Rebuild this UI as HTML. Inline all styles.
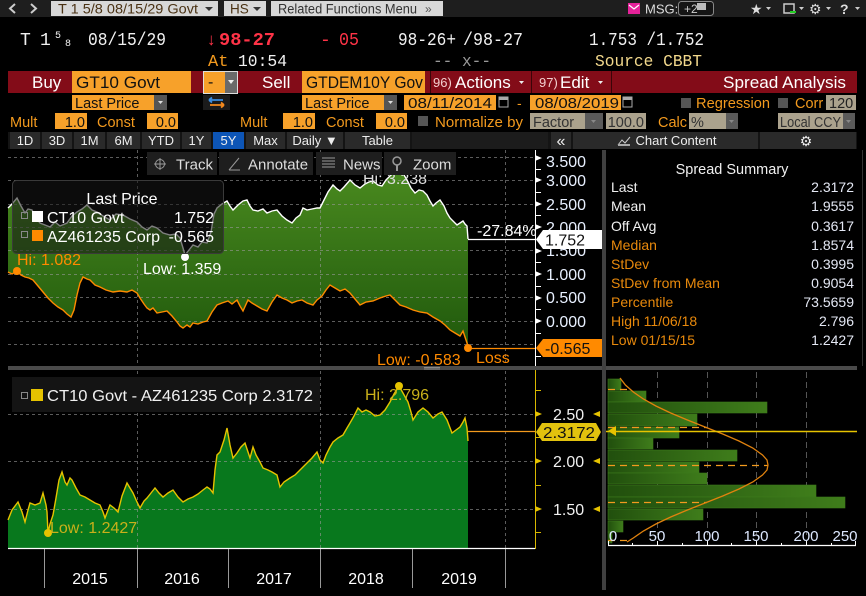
<!DOCTYPE html>
<html><head><meta charset="utf-8"><style>
html,body{margin:0;padding:0;background:#000;width:866px;height:596px;overflow:hidden}
svg{display:block}
text{font-family:"Liberation Sans",sans-serif}
.m{font-family:"Liberation Mono",monospace}
</style></head><body>
<svg width="866" height="596" viewBox="0 0 866 596" xmlns="http://www.w3.org/2000/svg">
<defs>
<linearGradient id="gu" x1="0" y1="170" x2="0" y2="350" gradientUnits="userSpaceOnUse">
<stop offset="0" stop-color="#4a8a1f"/><stop offset="1" stop-color="#1f580c"/></linearGradient>
<linearGradient id="gb" x1="0" y1="0" x2="1" y2="0">
<stop offset="0" stop-color="#214f0d"/><stop offset="1" stop-color="#3f7d1b"/></linearGradient>
</defs>
<rect width="866" height="596" fill="#000"/>

<!-- top bar -->
<rect x="0" y="0" width="866" height="17" fill="#1e1e1e"/>
<path d="M15,4 L10,8.5 L15,13" stroke="#ccc" stroke-width="2" fill="none"/>
<path d="M31,4 L36,8.5 L31,13" stroke="#ccc" stroke-width="2" fill="none"/>
<rect x="51" y="1" width="167" height="15" fill="#d8d8d8"/>
<text x="58" y="13.5" font-size="13.5" fill="#4a3214" textLength="140" lengthAdjust="spacingAndGlyphs">T 1 5/8 08/15/29 Govt</text>
<path d="M205,7 L213,7 L209,11 Z" fill="#333"/>
<rect x="224" y="1" width="42" height="15" fill="#d8d8d8"/>
<text x="230" y="13.5" font-size="13.5" fill="#4a3214">HS</text>
<path d="M253,7 L261,7 L257,11 Z" fill="#333"/>
<rect x="271" y="1" width="172" height="15" fill="#d8d8d8"/>
<text x="278" y="13.5" font-size="13.5" fill="#333" textLength="139" lengthAdjust="spacingAndGlyphs">Related Functions Menu</text>
<text x="425" y="13" font-size="12" fill="#555">»</text>
<rect x="628" y="3" width="12" height="11" fill="#e5229a"/>
<path d="M629,5 L634,9 L639,5" stroke="#fff" stroke-width="1.2" fill="none"/>
<text x="645" y="13.5" font-size="13" fill="#ddd">MSG:</text>
<rect x="678.5" y="1.5" width="35" height="14" rx="3" fill="#151515" stroke="#888"/>
<text x="684" y="13" font-size="12" fill="#ccc">+2</text>
<rect x="697" y="3" width="9" height="7" fill="#bbb"/>
<text x="750" y="14" font-size="14" fill="#ddd">★</text>
<path d="M766,7 L771,7 L768.5,10 Z" fill="#ccc"/>
<rect x="784" y="4" width="10" height="9" fill="none" stroke="#ccc" stroke-width="1.5"/>
<path d="M790,12 L796,12" stroke="#2c2" stroke-width="2"/>
<path d="M799,7 L804,7 L801.5,10 Z" fill="#ccc"/>
<text x="809" y="14" font-size="14" fill="#ddd">⚙</text>
<path d="M826,7 L831,7 L828.5,10 Z" fill="#ccc"/>
<text x="840" y="14" font-size="14" font-weight="bold" fill="#ddd">?</text>
<path d="M855,7 L860,7 L857.5,10 Z" fill="#ccc"/>

<!-- quote line -->
<text class="m" x="20" y="45" font-size="18" fill="#f0f0f0">T</text>
<text class="m" x="40" y="45" font-size="18" fill="#f0f0f0">1</text>
<text class="m" x="55" y="38" font-size="10" fill="#f0f0f0">5</text>
<text class="m" x="65" y="46" font-size="10" fill="#f0f0f0">8</text>
<text class="m" x="88" y="45" font-size="18" fill="#f0f0f0" textLength="78" lengthAdjust="spacingAndGlyphs">08/15/29</text>
<text x="207" y="45" font-size="17" fill="#ff3347">↓</text>
<text class="m" x="219" y="45" font-size="18" font-weight="bold" fill="#ff3347" textLength="56" lengthAdjust="spacingAndGlyphs">98-27</text>
<text class="m" x="320" y="45" font-size="18" fill="#ff3347">-</text>
<text class="m" x="339" y="45" font-size="18" fill="#ff3347" textLength="20" lengthAdjust="spacingAndGlyphs">05</text>
<text class="m" x="398" y="45" font-size="18" fill="#f0f0f0" textLength="58" lengthAdjust="spacingAndGlyphs">98-26+</text>
<text class="m" x="463" y="45" font-size="18" fill="#f0f0f0" textLength="60" lengthAdjust="spacingAndGlyphs">/98-27</text>
<text class="m" x="589" y="45" font-size="18" fill="#f0f0f0" textLength="115" lengthAdjust="spacingAndGlyphs">1.753 /1.752</text>
<text class="m" x="208" y="66" font-size="17" fill="#f39a1e">At</text>
<text class="m" x="238" y="66" font-size="17" fill="#f0f0f0" textLength="49" lengthAdjust="spacingAndGlyphs">10:54</text>
<text class="m" x="433" y="66" font-size="17" fill="#9a9a9a" textLength="58" lengthAdjust="spacingAndGlyphs">-- x--</text>
<text class="m" x="595" y="66" font-size="17" fill="#f2d88c" textLength="107" lengthAdjust="spacingAndGlyphs">Source CBBT</text>

<!-- red bar -->
<rect x="8" y="71" width="849" height="22" fill="#830c18"/>
<text x="32" y="88" font-size="17" fill="#fff">Buy</text>
<rect x="72" y="71" width="119" height="22" fill="#f7a12a"/>
<text x="76" y="88" font-size="17" fill="#111" textLength="84" lengthAdjust="spacingAndGlyphs">GT10 Govt</text>
<rect x="203.5" y="71.5" width="34" height="22" fill="#f7a12a" stroke="#ddd"/>
<rect x="225" y="72" width="12" height="21" fill="#6a6a6a"/>
<path d="M228,80 L234,80 L231,84 Z" fill="#eee"/>
<text x="208" y="87" font-size="16" fill="#111">-</text>
<text x="262" y="88" font-size="17" fill="#fff">Sell</text>
<rect x="302" y="71" width="123" height="22" fill="#f7a12a"/>
<text x="306" y="88" font-size="17" fill="#111" textLength="117" lengthAdjust="spacingAndGlyphs">GTDEM10Y Gov</text>
<rect x="430" y="71" width="1" height="22" fill="#3a0508"/>
<rect x="531" y="71" width="1" height="22" fill="#3a0508"/>
<rect x="611" y="71" width="1" height="22" fill="#3a0508"/>
<text x="433" y="87" font-size="13" fill="#f3cfcf">96)</text>
<text x="455" y="88" font-size="17" fill="#fff">Actions</text>
<path d="M519,81 L524,81 L521.5,84 Z" fill="#eee"/>
<text x="539" y="87" font-size="13" fill="#f3cfcf">97)</text>
<text x="560" y="88" font-size="17" fill="#fff">Edit</text>
<path d="M598,81 L603,81 L600.5,84 Z" fill="#eee"/>
<text x="723" y="88" font-size="17" fill="#fff" textLength="123" lengthAdjust="spacingAndGlyphs">Spread Analysis</text>

<!-- row 5 -->
<rect x="72" y="95" width="82" height="15" fill="#f7a12a"/>
<text x="75" y="108" font-size="14.5" fill="#111">Last Price</text>
<rect x="154" y="95" width="13" height="15" fill="#555"/>
<path d="M158,101 L163,101 L160.5,104 Z" fill="#ddd"/>
<rect x="203" y="95" width="27" height="15" fill="#1b1b1b"/>
<path d="M209,100 L223,100 M209,100 L212,97.5 M209,100 L212,102.5" stroke="#3b8de0" stroke-width="1.8" fill="none"/>
<path d="M210,105 L224,105 M224,105 L221,102.5 M224,105 L221,107.5" stroke="#f58a1e" stroke-width="1.8" fill="none"/>
<rect x="302" y="95" width="82" height="15" fill="#f7a12a"/>
<text x="305" y="108" font-size="14.5" fill="#111">Last Price</text>
<rect x="384" y="95" width="13" height="15" fill="#555"/>
<path d="M388,101 L393,101 L390.5,104 Z" fill="#ddd"/>
<rect x="404" y="95" width="92" height="15" fill="#f7a12a"/>
<text x="408" y="108" font-size="14.5" fill="#111" textLength="84" lengthAdjust="spacingAndGlyphs">08/11/2014</text>
<rect x="499" y="97" width="9" height="10" fill="none" stroke="#aaa"/>
<rect x="499" y="97" width="9" height="3" fill="#aaa"/>
<text x="517" y="108" font-size="14" fill="#f39a1e">-</text>
<rect x="530" y="95" width="91" height="15" fill="#f7a12a"/>
<text x="535" y="108" font-size="14.5" fill="#111" textLength="84" lengthAdjust="spacingAndGlyphs">08/08/2019</text>
<rect x="623" y="97" width="9" height="10" fill="none" stroke="#aaa"/>
<rect x="623" y="97" width="9" height="3" fill="#aaa"/>
<rect x="681" y="98" width="10" height="10" fill="#555"/>
<text x="696" y="108" font-size="14.5" fill="#f39a1e" textLength="74" lengthAdjust="spacingAndGlyphs">Regression</text>
<rect x="778" y="98" width="10" height="10" fill="#555"/>
<text x="795" y="108" font-size="14.5" fill="#f39a1e">Corr</text>
<rect x="826" y="95" width="30" height="15" fill="#aba28d"/>
<text x="829" y="108" font-size="14.5" fill="#222">120</text>

<!-- row 6 -->
<text x="10" y="127" font-size="14.5" fill="#f39a1e">Mult</text>
<rect x="55" y="113" width="32" height="16" fill="#f7a12a"/>
<text x="85" y="127" font-size="14.5" fill="#111" text-anchor="end">1.0</text>
<text x="97" y="127" font-size="14.5" fill="#f39a1e">Const</text>
<rect x="147" y="113" width="31" height="16" fill="#f7a12a"/>
<text x="176" y="127" font-size="14.5" fill="#111" text-anchor="end">0.0</text>
<text x="240" y="127" font-size="14.5" fill="#f39a1e">Mult</text>
<rect x="283" y="113" width="32" height="16" fill="#f7a12a"/>
<text x="313" y="127" font-size="14.5" fill="#111" text-anchor="end">1.0</text>
<text x="326" y="127" font-size="14.5" fill="#f39a1e">Const</text>
<rect x="376" y="113" width="31" height="16" fill="#f7a12a"/>
<text x="405" y="127" font-size="14.5" fill="#111" text-anchor="end">0.0</text>
<rect x="418" y="116" width="10" height="10" fill="#555"/>
<text x="435" y="127" font-size="14.5" fill="#f39a1e" textLength="88" lengthAdjust="spacingAndGlyphs">Normalize by</text>
<rect x="530" y="113" width="55" height="16" fill="#aba28d"/>
<text x="533" y="127" font-size="14.5" fill="#333">Factor</text>
<rect x="585" y="113" width="18" height="16" fill="#5a5a5a"/>
<path d="M591,120 L596,120 L593.5,123 Z" fill="#888"/>
<rect x="606" y="113" width="40" height="16" fill="#aba28d"/>
<text x="644" y="127" font-size="14.5" fill="#333" text-anchor="end">100.0</text>
<text x="658" y="127" font-size="14.5" fill="#f39a1e">Calc</text>
<rect x="689" y="113" width="37" height="16" fill="#aba28d"/>
<text x="691" y="127" font-size="14.5" fill="#333">%</text>
<rect x="726" y="113" width="12" height="16" fill="#5a5a5a"/>
<path d="M729,120 L734,120 L731.5,123 Z" fill="#888"/>
<rect x="778" y="113" width="65" height="16" fill="#aba28d"/>
<text x="780" y="127" font-size="14.5" fill="#333" textLength="61" lengthAdjust="spacingAndGlyphs">Local CCY</text>
<rect x="843" y="113" width="12" height="16" fill="#5a5a5a"/>
<path d="M846,120 L851,120 L848.5,123 Z" fill="#888"/>

<!-- row 7 tabs -->
<rect x="8" y="132" width="849" height="17" fill="#141414"/>
<g fill="#2a2a2a">
<rect x="10" y="132" width="30" height="17"/><rect x="42" y="132" width="30" height="17"/>
<rect x="74" y="132" width="31" height="17"/><rect x="107" y="132" width="33" height="17"/>
<rect x="142" y="132" width="38" height="17"/><rect x="182" y="132" width="29" height="17"/>
<rect x="246" y="132" width="39" height="17"/><rect x="287" y="132" width="56" height="17"/>
<rect x="345" y="132" width="65" height="17"/><rect x="412" y="132" width="136" height="17" fill="#1c1c1c"/>
<rect x="551" y="132" width="20" height="17"/><rect x="573" y="132" width="185" height="17"/>
<rect x="760" y="132" width="96" height="17"/>
</g>
<rect x="213" y="132" width="31" height="17" fill="#0d55b6"/>
<g font-size="13" fill="#eee" text-anchor="middle">
<text x="25" y="145">1D</text><text x="57" y="145">3D</text><text x="89.5" y="145">1M</text>
<text x="123.5" y="145">6M</text><text x="161" y="145">YTD</text><text x="196.5" y="145">1Y</text>
<text x="228.5" y="145">5Y</text><text x="265.5" y="145">Max</text><text x="315" y="145">Daily ▼</text>
<text x="377.5" y="145">Table</text><text x="561" y="146" font-size="16">«</text>
<text x="676" y="145">Chart Content</text><text x="806" y="146" font-size="14">⚙</text>
</g>
<path d="M618,145 L622,140 L625,143 L630,137" stroke="#ccc" fill="none"/>
<rect x="618" y="144" width="12" height="2" fill="#aaa"/>

<!-- ============ upper chart ============ -->
<path fill="url(#gu)" d="M8,208 L12,204 L17,198 L21,206 L25,213 L28,209 L32,210 L36,218 L40,223 L45,225 L50,227 L55,222 L60,226 L67,223 L72,216 L77,212 L82,209 L87,205 L92,210 L97,212 L103,216 L110,220 L116,214 L123,215 L130,219 L137,222 L142,227 L147,230 L152,226 L157,228 L163,233 L170,235 L176,234 L180,238 L183,248 L185,255 L189,250 L193,245 L198,247 L202,242 L207,243 L211,232 L214,214 L217,208 L222,204 L227,201 L230,206 L233,210 L238,205 L243,201 L247,200 L250,206 L253,210 L258,211 L263,209 L267,213 L272,211 L277,210 L282,216 L287,220 L292,223 L296,218 L300,215 L303,208 L307,210 L312,209 L317,208 L320,208 L324,200 L328,192 L333,185 L337,189 L340,191 L344,187 L350,180 L355,185 L360,188 L365,184 L369,182 L373,181 L378,185 L382,186 L386,180 L390,176 L395,172 L400,170 L404,175 L407,180 L411,188 L415,193 L419,190 L423,191 L427,195 L430,201 L433,206 L436,203 L440,200 L444,206 L447,213 L450,218 L454,222 L457,225 L460,223 L463,221 L465,224 L467,226 L468,239 L468,365 L8,365 Z"/>
<path fill="#000" d="M8,272 L12,274 L17,271 L21,275 L25,277 L29,278 L33,280 L38,286 L43,292 L48,298 L53,303 L58,307 L63,310 L67,314 L71,317 L74,310 L77,295 L80,283 L83,277 L87,279 L90,280 L95,285 L100,287 L106,290 L113,292 L120,291 L127,292 L132,290 L137,293 L140,298 L144,304 L147,308 L150,310 L153,308 L157,313 L162,312 L167,311 L172,316 L177,322 L180,326 L183,328 L187,325 L190,327 L193,323 L198,324 L203,322 L207,321 L212,312 L217,305 L222,303 L228,301 L232,304 L237,300 L240,306 L243,311 L248,300 L252,303 L257,306 L262,309 L267,311 L272,302 L277,295 L282,298 L287,300 L292,303 L297,301 L302,300 L307,303 L313,305 L317,300 L322,296 L326,290 L330,285 L335,288 L340,291 L345,289 L350,293 L355,299 L360,305 L366,302 L373,301 L380,298 L386,296 L390,295 L395,300 L400,305 L406,307 L413,310 L420,312 L427,313 L433,317 L440,321 L445,325 L450,330 L455,333 L460,336 L463,331 L466,340 L468,346 L468,366 L8,366 Z"/>
<!-- grid upper -->
<g stroke="#9a9a9a" stroke-opacity="0.6" stroke-dasharray="3,3" stroke-width="1">
<path d="M8,157.5 H535 M8,180.5 H535 M8,204.5 H535 M8,227.5 H535 M8,250.5 H535 M8,274.5 H535 M8,297.5 H535 M8,321.5 H535 M8,344.5 H535"/>
<path d="M137.5,150 V366 M320.5,150 V366 M505.5,150 V366"/>
</g>
<!-- lines -->
<polyline fill="none" stroke="#ff8a00" stroke-width="1.4" points="8,272 12,274 17,271 21,275 25,277 29,278 33,280 38,286 43,292 48,298 53,303 58,307 63,310 67,314 71,317 74,310 77,295 80,283 83,277 87,279 90,280 95,285 100,287 106,290 113,292 120,291 127,292 132,290 137,293 140,298 144,304 147,308 150,310 153,308 157,313 162,312 167,311 172,316 177,322 180,326 183,328 187,325 190,327 193,323 198,324 203,322 207,321 212,312 217,305 222,303 228,301 232,304 237,300 240,306 243,311 248,300 252,303 257,306 262,309 267,311 272,302 277,295 282,298 287,300 292,303 297,301 302,300 307,303 313,305 317,300 322,296 326,290 330,285 335,288 340,291 345,289 350,293 355,299 360,305 366,302 373,301 380,298 386,296 390,295 395,300 400,305 406,307 413,310 420,312 427,313 433,317 440,321 445,325 450,330 455,333 460,336 463,331 466,340 468,346"/>
<polyline fill="none" stroke="#fff" stroke-width="1.4" points="8,208 12,204 17,198 21,206 25,213 28,209 32,210 36,218 40,223 45,225 50,227 55,222 60,226 67,223 72,216 77,212 82,209 87,205 92,210 97,212 103,216 110,220 116,214 123,215 130,219 137,222 142,227 147,230 152,226 157,228 163,233 170,235 176,234 180,238 183,248 185,255 189,250 193,245 198,247 202,242 207,243 211,232 214,214 217,208 222,204 227,201 230,206 233,210 238,205 243,201 247,200 250,206 253,210 258,211 263,209 267,213 272,211 277,210 282,216 287,220 292,223 296,218 300,215 303,208 307,210 312,209 317,208 320,208 324,200 328,192 333,185 337,189 340,191 344,187 350,180 355,185 360,188 365,184 369,182 373,181 378,185 382,186 386,180 390,176 395,172 400,170 404,175 407,180 411,188 415,193 419,190 423,191 427,195 430,201 433,206 436,203 440,200 444,206 447,213 450,218 454,222 457,225 460,223 463,221 465,224 467,226 468,239"/>
<path d="M468,239.5 H535" stroke="#fff" stroke-width="1.3"/>
<path d="M468,348.5 H535" stroke="#ff8a00" stroke-width="1.3"/>
<circle cx="17" cy="271" r="4" fill="#ff8a00"/>
<circle cx="185" cy="257" r="4" fill="#fff"/>
<circle cx="468" cy="348" r="4" fill="#ff8a00"/>
<text x="17" y="265" font-size="16" fill="#ff8a00">Hi: 1.082</text>
<text x="143" y="274" font-size="16" fill="#fff">Low: 1.359</text>
<text x="377" y="365" font-size="16" fill="#ff8a00">Low: -0.583</text>
<text x="476" y="363" font-size="16" fill="#ff8a00">Loss</text>
<text x="477" y="236" font-size="16" fill="#fff">-27.84%</text>
<text x="363" y="184" font-size="16" fill="#ddd">Hi: 3.238</text>
<!-- legend upper -->
<rect x="12.5" y="180.5" width="211" height="73" rx="4" fill="#161616" fill-opacity="0.55" stroke="#3a3a3a"/>
<text x="122" y="204" font-size="16" fill="#fff" text-anchor="middle">Last Price</text>
<rect x="21.5" y="212.5" width="6" height="6" fill="none" stroke="#888"/>
<rect x="32" y="211" width="11" height="11" fill="#fff"/>
<text x="47" y="223" font-size="16" fill="#fff">CT10 Govt</text>
<text x="214" y="223" font-size="16" fill="#fff" text-anchor="end">1.752</text>
<rect x="21.5" y="231.5" width="6" height="6" fill="none" stroke="#888"/>
<rect x="32" y="230" width="11" height="11" fill="#ff8a00"/>
<text x="47" y="242" font-size="16" fill="#fff">AZ461235 Corp</text>
<text x="214" y="242" font-size="16" fill="#fff" text-anchor="end">-0.565</text>
<!-- toolbar overlay -->
<g fill="#1e1e1e">
<rect x="147" y="152" width="70" height="23"/><rect x="219" y="152" width="94" height="23"/>
<rect x="316" y="152" width="66" height="23"/><rect x="384" y="152" width="72" height="23"/>
</g>
<circle cx="160" cy="164" r="4.5" fill="none" stroke="#999"/>
<path d="M160,158 V170 M154,164 H166" stroke="#999"/>
<text x="176" y="169.5" font-size="15" fill="#ddd">Track</text>
<path d="M229,170 L239,158 M229,170 H240" stroke="#999"/>
<text x="248" y="169.5" font-size="15" fill="#ddd">Annotate</text>
<path d="M322,158 H335 M322,161 H335 M322,164 H335 M322,167 H335" stroke="#999"/>
<text x="343" y="169.5" font-size="15" fill="#ddd">News</text>
<circle cx="397" cy="161" r="4" fill="none" stroke="#999" stroke-width="1.5"/>
<path d="M397,165 V171" stroke="#999" stroke-width="2"/>
<text x="413" y="169.5" font-size="15" fill="#ddd">Zoom</text>

<!-- upper axis -->
<path d="M535.5,150 V366" stroke="#fff"/>
<g fill="#fff">
<path d="M535,155 L542,158 L535,161 Z"/><path d="M535,177 L542,180 L535,183 Z"/>
<path d="M535,201 L542,204 L535,207 Z"/><path d="M535,224 L542,227 L535,230 Z"/>
<path d="M535,248 L542,251 L535,254 Z"/><path d="M535,271 L542,274 L535,277 Z"/>
<path d="M535,295 L542,298 L535,301 Z"/><path d="M535,318 L542,321 L535,324 Z"/>
</g>
<path d="M535,169.5 H541 M535,192.5 H541 M535,215.5 H541 M535,262.5 H541 M535,286.5 H541 M535,309.5 H541 M535,333.5 H541 M535,356.5 H541" stroke="#fff"/>
<g font-size="16" fill="#e8f0ff">
<text x="546" y="167">3.500</text><text x="546" y="186">3.000</text><text x="546" y="210">2.500</text>
<text x="546" y="233">2.000</text><text x="546" y="256">1.500</text><text x="546" y="280">1.000</text>
<text x="546" y="303">0.500</text><text x="546" y="327">0.000</text>
</g>
<path d="M536,239.5 L543,230 L602,230 L602,249 L543,249 Z" fill="#fff"/>
<text x="545" y="245.5" font-size="16" fill="#111">1.752</text>
<path d="M536,348 L543,339 L602,339 L602,357 L543,357 Z" fill="#ff8a00"/>
<text x="545" y="354" font-size="16" fill="#111">-0.565</text>

<!-- summary panel -->
<text x="732" y="174" font-size="14.5" fill="#f0f0f0" text-anchor="middle">Spread Summary</text>
<g font-size="14" fill="#f0f0f0">
<text x="611" y="192">Last</text><text x="611" y="211">Mean</text><text x="611" y="231">Off Avg</text>
</g>
<g font-size="14" fill="#e8890c">
<text x="611" y="250">Median</text><text x="611" y="269">StDev</text><text x="611" y="288">StDev from Mean</text>
<text x="611" y="307">Percentile</text><text x="611" y="326">High 11/06/18</text><text x="611" y="345">Low 01/15/15</text>
</g>
<g font-size="14" fill="#e4e8f4" text-anchor="end">
<text x="854" y="192">2.3172</text><text x="854" y="211">1.9555</text><text x="854" y="231">0.3617</text>
<text x="854" y="250">1.8574</text><text x="854" y="269">0.3995</text><text x="854" y="288">0.9054</text>
<text x="854" y="307">73.5659</text><text x="854" y="326">2.796</text><text x="854" y="345">1.2427</text>
</g>

<!-- separators -->
<rect x="8" y="366" width="849" height="4" fill="#4a4a4a"/>
<path d="M424,367.5 H440 M424,369 H440" stroke="#888"/>
<rect x="602" y="150" width="4" height="440" fill="#404040"/>
<rect x="862" y="150" width="1" height="216" fill="#333"/>

<!-- ============ lower chart ============ -->
<path fill="#08781d" d="M8,520 L12,510 L18,502 L22,512 L25,522 L28,510 L30,503 L35,505 L40,503 L43,493 L46,505 L47,512 L48,533 L50,524 L53,515 L56,498 L59,480 L62,472 L65,482 L67,485 L70,478 L72,480 L76,488 L80,495 L85,497 L90,500 L95,503 L100,505 L103,512 L105,518 L108,510 L110,505 L114,508 L118,512 L122,496 L127,483 L130,488 L133,493 L137,502 L140,508 L144,501 L147,498 L151,493 L155,488 L159,493 L163,497 L168,493 L173,490 L178,497 L183,502 L188,499 L193,497 L198,494 L203,490 L207,487 L210,489 L213,493 L215,470 L217,455 L220,452 L224,440 L227,428 L230,445 L233,458 L237,453 L241,447 L245,443 L248,452 L250,458 L253,447 L256,455 L260,462 L263,468 L268,470 L272,472 L277,475 L280,487 L284,482 L290,478 L295,475 L300,470 L304,466 L307,463 L312,458 L317,452 L320,460 L323,463 L326,455 L330,447 L333,442 L338,438 L343,435 L347,428 L350,423 L354,416 L358,408 L362,412 L366,410 L370,412 L375,416 L380,415 L385,410 L390,402 L394,394 L399,386 L403,393 L408,402 L411,412 L413,420 L418,412 L423,408 L428,412 L433,418 L438,414 L442,412 L447,420 L452,433 L456,430 L460,427 L463,422 L465,418 L467,428 L468,441 L468,548 L8,548 Z"/>
<g stroke="#9a9a9a" stroke-opacity="0.6" stroke-dasharray="3,3" stroke-width="1">
<path d="M8,414.5 H535 M8,461.5 H535 M8,509.5 H535"/>
<path d="M137.5,371 V548 M320.5,371 V548 M505.5,371 V548"/>
</g>
<polyline fill="none" stroke="#e6c300" stroke-width="1.4" points="8,520 12,510 18,502 22,512 25,522 28,510 30,503 35,505 40,503 43,493 46,505 47,512 48,533 50,524 53,515 56,498 59,480 62,472 65,482 67,485 70,478 72,480 76,488 80,495 85,497 90,500 95,503 100,505 103,512 105,518 108,510 110,505 114,508 118,512 122,496 127,483 130,488 133,493 137,502 140,508 144,501 147,498 151,493 155,488 159,493 163,497 168,493 173,490 178,497 183,502 188,499 193,497 198,494 203,490 207,487 210,489 213,493 215,470 217,455 220,452 224,440 227,428 230,445 233,458 237,453 241,447 245,443 248,452 250,458 253,447 256,455 260,462 263,468 268,470 272,472 277,475 280,487 284,482 290,478 295,475 300,470 304,466 307,463 312,458 317,452 320,460 323,463 326,455 330,447 333,442 338,438 343,435 347,428 350,423 354,416 358,408 362,412 366,410 370,412 375,416 380,415 385,410 390,402 394,394 399,386 403,393 408,402 411,412 413,420 418,412 423,408 428,412 433,418 438,414 442,412 447,420 452,433 456,430 460,427 463,422 465,418 467,428 468,441"/>
<path d="M468,431.5 H535" stroke="#f39a1e" stroke-width="1.3"/>
<circle cx="399" cy="386" r="4" fill="#e6c300"/>
<circle cx="48" cy="533" r="4" fill="#e6c300"/>
<text x="365" y="400" font-size="16" fill="#c9b01a">Hi: 2.796</text>
<text x="50" y="533" font-size="16" fill="#c9b01a">Low: 1.2427</text>
<!-- legend lower -->
<rect x="12" y="377" width="308" height="35" fill="#141414"/>
<rect x="21.5" y="392.5" width="6" height="6" fill="none" stroke="#888"/>
<rect x="31" y="389" width="12" height="12" fill="#e6c300"/>
<text x="47" y="401" font-size="16" fill="#f0f0f0" textLength="266" lengthAdjust="spacingAndGlyphs">CT10 Govt - AZ461235 Corp 2.3172</text>
<!-- lower axes -->
<path d="M8,548.5 H535" stroke="#fff" stroke-width="1.3"/>
<path d="M535.5,370 V549" stroke="#d9b800"/>
<g fill="#e6c300">
<path d="M535,411 L542,414 L535,417 Z"/><path d="M535,458 L542,461 L535,464 Z"/><path d="M535,506 L542,509 L535,512 Z"/>
<path d="M600,411 L593,414 L600,417 Z"/><path d="M600,458 L593,461 L600,464 Z"/><path d="M600,506 L593,509 L600,512 Z"/>
</g>
<path d="M535,390.5 H541 M535,437.5 H541 M535,485.5 H541 M535,532.5 H541" stroke="#d9b800"/>
<g font-size="16" fill="#f0f0f0">
<text x="553" y="420">2.50</text><text x="553" y="467">2.00</text><text x="553" y="515">1.50</text>
</g>
<path d="M536,432 L542,423 L596,423 L601,432 L596,441 L542,441 Z" fill="#e2c20e"/>
<text x="543" y="438" font-size="16" fill="#111" textLength="52" lengthAdjust="spacingAndGlyphs">2.3172</text>
<!-- year axis -->
<path d="M44.5,549 V588 M137.5,549 V588 M228.5,549 V588 M320.5,549 V588 M412.5,549 V588 M505.5,549 V588" stroke="#999"/>
<g font-size="16" fill="#fff" text-anchor="middle">
<text x="90" y="584">2015</text><text x="182" y="584">2016</text><text x="274" y="584">2017</text>
<text x="366" y="584">2018</text><text x="459" y="584">2019</text>
</g>

<!-- histogram -->
<path d="M657.5,372 V535 M707.5,372 V535 M756.5,372 V535 M806.5,372 V535" stroke="#555" stroke-dasharray="6,4"/>
<g fill="url(#gb)" stroke="#3d7a1c" stroke-width="0.6">
<rect x="608" y="379" width="13" height="11"/>
<rect x="608" y="391" width="38" height="11"/>
<rect x="608" y="402" width="159" height="11"/>
<rect x="608" y="414" width="89" height="12"/>
<rect x="608" y="427" width="71" height="11"/>
<rect x="608" y="438" width="45" height="11"/>
<rect x="608" y="450" width="129" height="11"/>
<rect x="608" y="462" width="91" height="11"/>
<rect x="608" y="473" width="99" height="11"/>
<rect x="608" y="485" width="208" height="12"/>
<rect x="608" y="497" width="237" height="11"/>
<rect x="608" y="509" width="95" height="11"/>
<rect x="608" y="521" width="15" height="11"/>
<rect x="608" y="532" width="4" height="11"/>
</g>
<g stroke="#f39a1e" stroke-width="1.3" stroke-dasharray="7,5">
<path d="M608,389.5 H632 M608,427.5 H707 M608,465.5 H768 M608,502.5 H707 M608,540.5 H632"/>
</g>
<polyline fill="none" stroke="#e0820e" stroke-width="1.3" points="620,378 625.4,385 633.3,392 643.4,399 655.9,406 670.7,413 687.4,420 705,427 722.7,434 739,441 752.8,448 762.5,455 767,460 768,465 767,470 762.5,475 752.8,482 739,489 722.7,496 705,503 687.4,510 670.7,517 655.9,524 643.4,531 633.3,538 627,542"/>
<path d="M606,431.5 H857" stroke="#e6c300" stroke-width="1.5"/>
<path d="M608,431 L616,426 L616,436 Z" fill="#e6c300"/>
<path d="M608,545.5 H856" stroke="#fff" stroke-width="1.3"/>
<path d="M608.5,541 V546 M632.5,543 V546 M657.5,541 V546 M682.5,543 V546 M707.5,541 V546 M731.5,543 V546 M756.5,541 V546 M781.5,543 V546 M806.5,541 V546 M831.5,543 V546 M855.5,541 V546" stroke="#fff"/>
<g font-size="15" fill="#dde8ff" text-anchor="middle">
<text x="613" y="541">0</text><text x="657" y="541">50</text><text x="707" y="541">100</text>
<text x="756" y="541">150</text><text x="806" y="541">200</text><text x="845" y="541">250</text>
</g>
</svg>
</body></html>
